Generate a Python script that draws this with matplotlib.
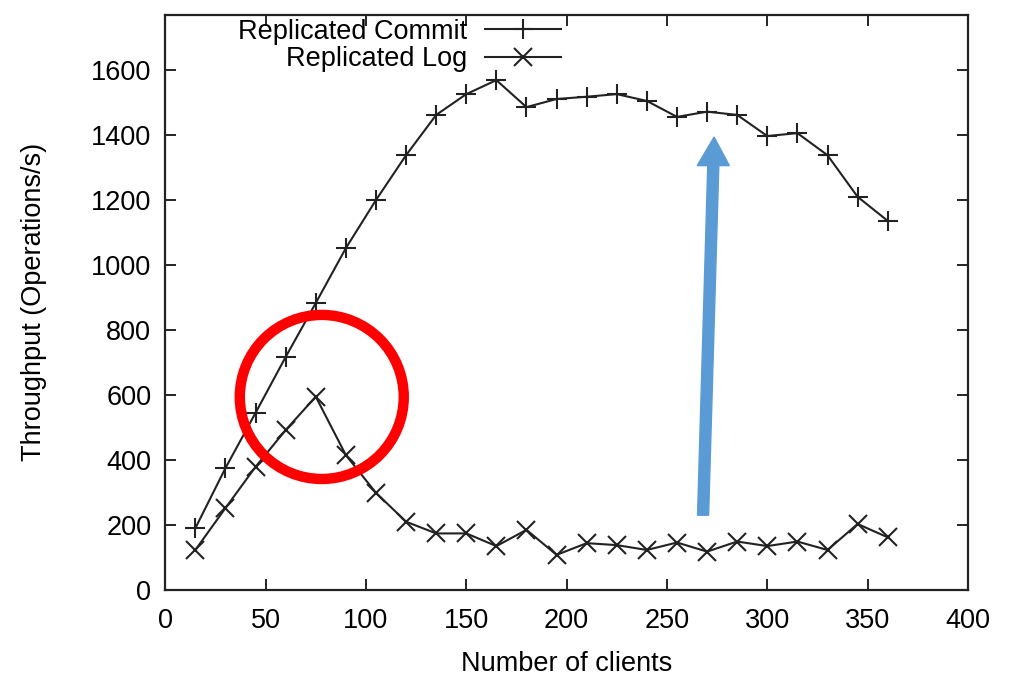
import numpy as np
import matplotlib.pyplot as plt
from matplotlib.patches import Ellipse, FancyArrow

plt.rcParams['font.family'] = ['Liberation Sans', 'DejaVu Sans']

# clients on the x axis
clients = [15, 30, 45, 60, 75, 90, 105, 120, 135, 150, 165, 180,
           195, 210, 225, 240, 255, 270, 285, 300, 315, 330, 345, 360]

commit = [190, 375, 545, 717, 883, 1052, 1200, 1338, 1462, 1526, 1569, 1486,
          1511, 1518, 1526, 1505, 1456, 1472, 1462, 1397, 1406, 1338, 1210, 1136]

log = [123, 252, 379, 492, 595, 415, 299, 210, 174, 174, 135, 185,
       108, 144, 138, 123, 146, 118, 149, 135, 149, 123, 203, 162]

xticks = [0, 50, 100, 150, 200, 250, 300, 350, 400]
yticks = [0, 200, 400, 600, 800, 1000, 1200, 1400, 1600]

fig = plt.figure(figsize=(10.2, 6.75), dpi=100)
ax = fig.add_axes([0.162, 0.126, 0.787, 0.852])

ax.plot(clients, commit, color='#222222', lw=1.5, marker='+', ms=15, mew=1.5,
        label='Replicated Commit')
ax.plot(clients, log, color='#222222', lw=1.5, marker='x', ms=13, mew=1.5,
        label='Replicated Log')

ax.set_xlim(0, 400)
ax.set_ylim(0, 1770)
ax.set_xticks(xticks)
ax.set_yticks(yticks)
ax.tick_params(direction='in', length=8, width=1.2, top=True, right=True,
               labelsize=19.5, pad=10)
ax.tick_params(axis='x', pad=13)
for s in ax.spines.values():
    s.set_linewidth(1.6)
    s.set_color('#222222')

ax.set_xlabel('Number of clients', fontsize=19.5, labelpad=12)
ax.set_ylabel('Throughput (Operations/s)', fontsize=19.5, labelpad=32)

leg = ax.legend(loc='upper right', bbox_to_anchor=(0.506, 1.012), frameon=False,
                markerfirst=False, fontsize=19.5, handlelength=2.8,
                handletextpad=0.65, labelspacing=0.05, borderaxespad=0)
for t in leg.get_texts():
    t.set_ha('right')
leg._legend_box.align = 'right'

# red circle highlight
circ = Ellipse((78, 594), width=81.7, height=505, fill=False,
               edgecolor='#ff0000', lw=7.5, zorder=5)
ax.add_patch(circ)

# blue arrow
arr = FancyArrow(268, 230, 5.5, 1164, width=5.5, head_width=16, head_length=88,
                 length_includes_head=True, color='#5b9bd5', zorder=5)
ax.add_patch(arr)

fig.savefig('out.png', dpi=100)
